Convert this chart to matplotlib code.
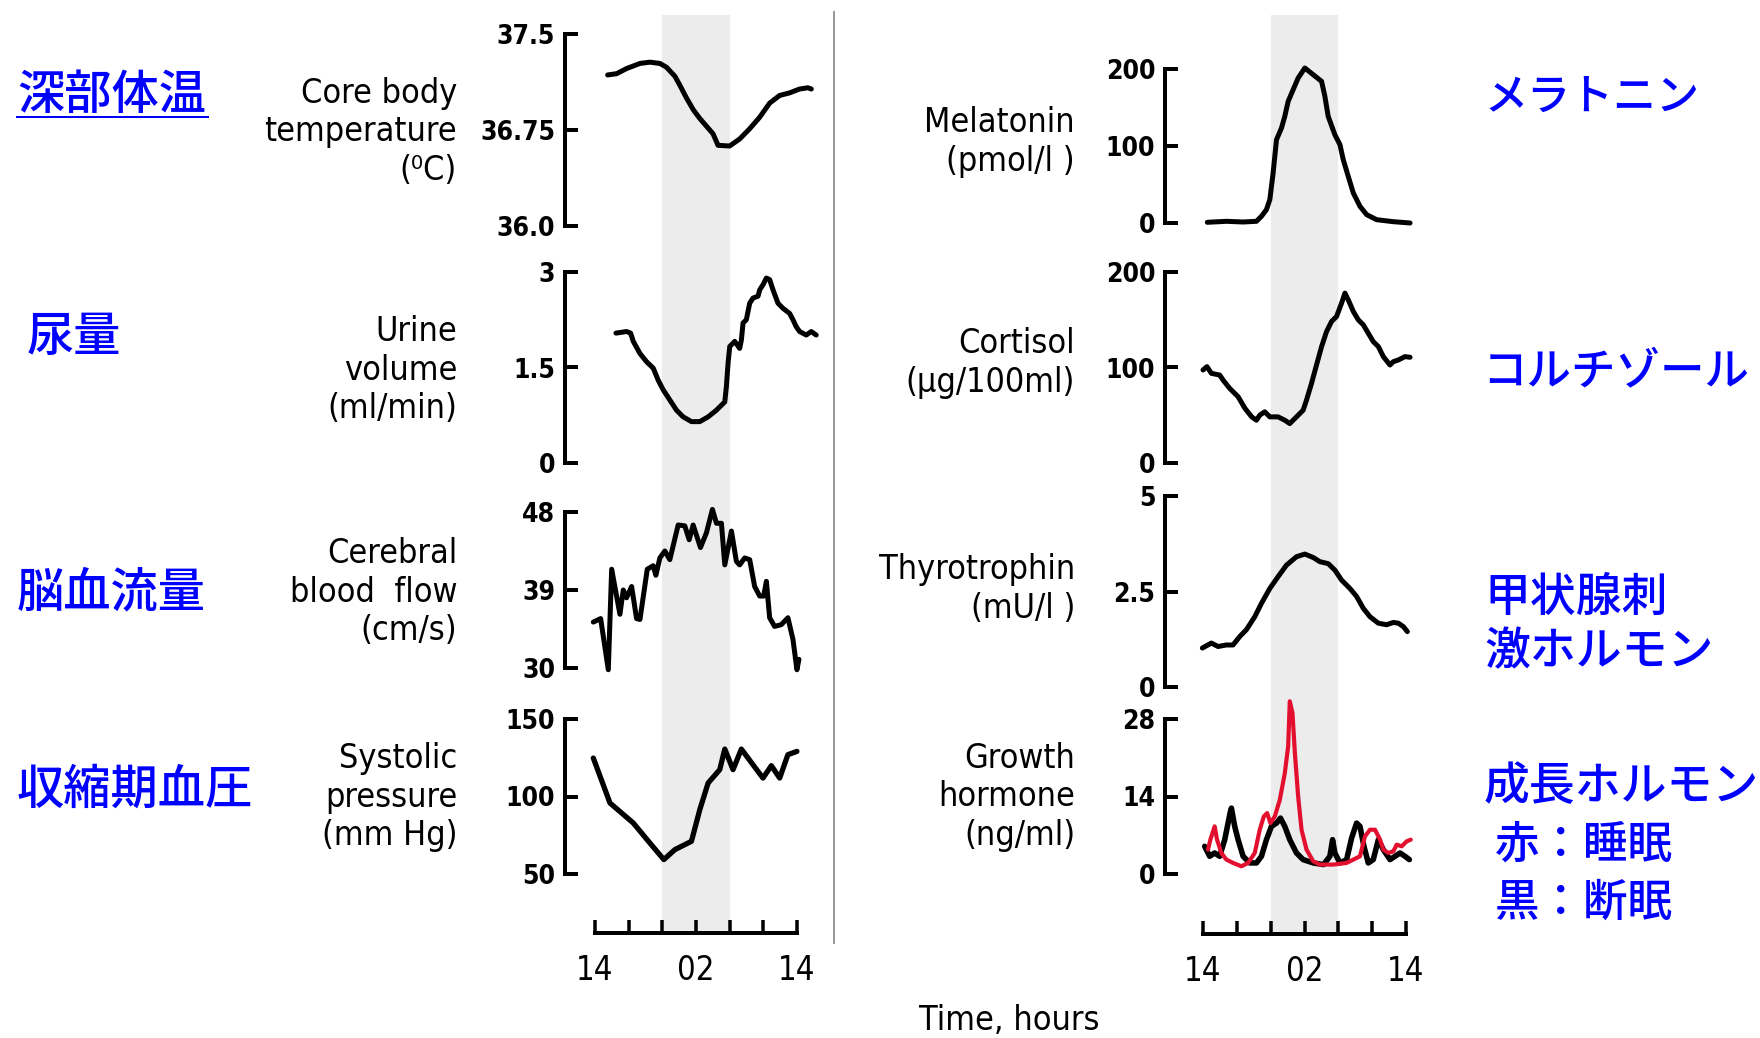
import matplotlib
matplotlib.use("Agg")
import matplotlib.pyplot as plt
from matplotlib import font_manager
from matplotlib.lines import Line2D

# time axis: hours after 14:00
time_ticks = [0, 4, 8, 12, 16, 20, 24]
time_labels = ["14", "", "", "02", "", "", "14"]
sleep_span = (8, 16)

temp_h = [1.5, 2.57, 3.75, 5.34, 6.52, 7.71, 8.5, 9.49, 10.08, 10.87, 11.66, 12.45,
          13.24, 14.03, 14.62, 16.0, 17.19, 18.38, 19.57, 20.75, 21.94, 23.12,
          24.3, 25.3, 25.7]
temp_v = [37.18, 37.19, 37.23, 37.27, 37.28, 37.27, 37.24, 37.17, 37.10, 37.0,
          36.91, 36.84, 36.78, 36.72, 36.63, 36.625, 36.68, 36.76, 36.85, 36.96,
          37.02, 37.04, 37.07, 37.08, 37.07]

urine_h = [2.49, 3.75, 4.23, 4.55, 5.34, 6.13, 6.92, 7.51, 8.1, 8.89, 9.68, 10.47,
           11.46, 12.45, 13.44, 14.43, 15.42, 15.61, 15.81, 16.01, 16.6, 17.19,
           17.39, 17.59, 17.98, 18.38, 18.77, 19.37, 19.57, 19.96, 20.36, 20.75,
           21.15, 21.74, 22.33, 23.12, 23.52, 23.91, 24.31, 25.1, 25.69, 26.28]
urine_v = [2.04, 2.065, 2.04, 1.91, 1.72, 1.59, 1.49, 1.30, 1.15, 0.99, 0.83, 0.725,
           0.65, 0.65, 0.725, 0.83, 0.96, 1.20, 1.57, 1.83, 1.91, 1.80, 1.93, 2.20,
           2.25, 2.51, 2.59, 2.62, 2.72, 2.80, 2.905, 2.88, 2.72, 2.51, 2.43, 2.35,
           2.25, 2.14, 2.065, 2.01, 2.065, 2.01]

cbf_h = [-0.2, 0.67, 1.58, 1.98, 2.96, 3.36, 3.75, 4.35, 4.94, 5.34, 6.21, 6.92,
         7.23, 7.71, 8.3, 8.89, 9.88, 10.67, 11.19, 11.66, 12.53, 13.24, 13.95,
         14.43, 15.02, 15.42, 16.21, 16.8, 17.19, 17.79, 18.38, 18.97, 19.57,
         20.04, 20.36, 20.75, 21.34, 22.13, 22.92, 23.52, 23.99, 24.23]
cbf_v = [35.3, 35.7, 29.8, 41.4, 36.2, 39.0, 38.1, 39.4, 35.7, 35.6, 41.4, 41.8,
         40.7, 42.7, 43.5, 42.5, 46.5, 46.4, 44.8, 46.5, 43.9, 45.6, 48.3, 46.7,
         46.7, 41.9, 45.8, 42.3, 41.9, 42.7, 42.5, 39.4, 38.3, 38.3, 40.0, 35.8,
         34.8, 35.0, 35.8, 33.3, 29.8, 31.0]

bp_h = [-0.2, 1.78, 4.55, 6.52, 8.18, 9.49, 11.46, 12.45, 13.44, 14.82, 15.42,
        16.4, 17.39, 18.77, 19.96, 20.95, 21.94, 22.92, 23.99]
bp_v = [124.8, 95.8, 82.9, 70.0, 59.3, 65.7, 71.1, 91.5, 108.7, 117.3, 130.6,
        117.3, 130.6, 120.5, 111.9, 119.9, 111.9, 127.0, 129.1]

mel_h = [0.51, 2.76, 4.74, 6.32, 6.91, 7.5, 7.9, 8.29, 8.69, 9.28, 9.67, 10.07,
         10.66, 11.25, 12.04, 13.03, 14.02, 14.41, 14.8, 15.59, 16.19, 16.58,
         17.17, 17.77, 18.56, 19.35, 20.53, 22.5, 24.48]
mel_v = [0.9, 2.2, 1.3, 2.2, 8.7, 17.3, 30.3, 64.9, 108.2, 123.4, 138.5, 158.0,
         173.2, 188.3, 201.3, 192.6, 184.0, 164.5, 138.5, 114.7, 101.7, 82.3,
         60.6, 39.0, 21.6, 10.8, 4.3, 1.7, 0.0]

cort_h = [0, 0.47, 0.99, 1.97, 2.37, 3.16, 4.15, 4.97, 5.76, 6.32, 6.71, 7.3, 7.9,
          8.88, 9.67, 10.26, 11.05, 11.84, 12.24, 12.83, 13.42, 14.02, 14.61,
          15.2, 15.79, 16.38, 16.78, 17.17, 17.77, 18.36, 18.95, 19.54, 20.13,
          20.73, 21.32, 22.11, 22.5, 23.1, 23.88, 24.48]
cort_v = [97.4, 100.9, 93.9, 92.1, 86.9, 78.1, 69.4, 57.1, 48.3, 44.8, 50.1, 53.6,
          48.3, 48.3, 44.8, 41.3, 48.3, 55.3, 65.9, 83.4, 102.6, 121.9, 137.7,
          148.2, 153.4, 167.4, 177.9, 170.9, 158.7, 149.9, 144.7, 135.9, 127.1,
          121.9, 111.4, 102.6, 106.1, 107.9, 111.4, 110.7]

tsh_h = [-0.08, 0.99, 1.78, 2.76, 3.55, 4.34, 5.13, 6.12, 6.91, 7.9, 8.88, 9.87,
         11.05, 12.04, 13.03, 13.82, 14.8, 15.59, 16.38, 17.37, 18.16, 18.95,
         19.74, 20.73, 21.71, 22.5, 23.1, 23.69, 24.16]
tsh_v = [1.02, 1.15, 1.06, 1.10, 1.10, 1.32, 1.50, 1.84, 2.19, 2.58, 2.89, 3.19,
         3.41, 3.48, 3.39, 3.28, 3.23, 3.06, 2.80, 2.58, 2.37, 2.06, 1.84, 1.67,
         1.63, 1.69, 1.67, 1.58, 1.45]

gh_sleep_h = [0.59, 0.87, 1.38, 1.66, 2.17, 2.76, 3.55, 4.54, 5.33, 6.12, 6.71,
              7.19, 7.58, 7.97, 8.49, 9.08, 9.67, 10.07, 10.26, 10.58, 10.86,
              11.25, 11.65, 12.24, 13.03, 13.82, 15.4, 16.98, 18.56, 19.15, 19.74,
              20.34, 20.93, 21.32, 21.91, 22.5, 22.9, 23.49, 24.08, 24.56]
gh_sleep_v = [4.4, 6.2, 8.6, 6.2, 3.8, 2.6, 2.0, 1.4, 2.0, 3.8, 8.0, 10.4, 11.0,
              9.2, 10.4, 13.4, 18.2, 23.1, 31.2, 29.1, 21.9, 14.0, 8.0, 4.4, 2.3,
              1.7, 1.7, 2.0, 3.2, 6.8, 8.0, 8.0, 6.2, 4.4, 3.8, 4.1, 5.3, 5.0,
              5.9, 6.2]
gh_wake_h = [0.2, 0.79, 1.38, 1.97, 2.57, 3.2, 3.36, 3.75, 4.15, 4.74, 5.53, 6.32,
             6.91, 7.5, 8.09, 8.69, 9.16, 9.67, 10.26, 11.05, 11.84, 13.03, 14.25,
             15.0, 15.32, 15.59, 16.19, 16.98, 17.57, 18.16, 18.56, 19.03, 19.54,
             20.13, 20.73, 21.32, 22.11, 22.7, 23.29, 23.88, 24.4]
gh_wake_v = [5.0, 3.2, 3.8, 3.2, 6.2, 11.0, 11.9, 8.6, 6.2, 3.2, 2.0, 2.0, 3.2,
             6.2, 8.6, 9.2, 10.1, 8.6, 6.2, 3.8, 2.6, 2.0, 1.7, 3.2, 6.2, 3.8, 2.0,
             2.6, 6.5, 9.2, 8.6, 5.0, 2.0, 2.6, 6.2, 4.4, 2.6, 3.2, 3.8, 3.2, 2.6]

W, H = 1760, 1038
PT = 72 / 100
BLUE = "#0000ff"
JP = ["Noto Sans CJK JP", "DejaVu Sans"]

# the reference lettering is narrow; use the condensed DejaVu cut if it is there
stretch = "normal"
for f in font_manager.fontManager.ttflist:
    if f.name == "DejaVu Sans" and f.stretch not in ("normal", 500) \
            and f.weight in ("normal", 400):
        stretch = f.stretch
        break
narrow = stretch != "normal"
TXT = dict(fontstretch=stretch, fontsize=24.5 if narrow else 21)
TICK = 19 if narrow else 16.5

fig = plt.figure(figsize=(W / 100, H / 100), dpi=100, facecolor="white")


def rect(x0, y0, x1, y1):
    return [x0 / W, 1 - y1 / H, (x1 - x0) / W, (y1 - y0) / H]


def time_axis(x0, x1, ytop, ybot):
    ax = fig.add_axes(rect(x0, ytop, x1, ybot), zorder=0)
    ax.set_xlim(0, 24)
    ax.set_ylim(0, 1)
    ax.axvspan(*sleep_span, color="#ececec", lw=0)
    for s in ["top", "right", "left"]:
        ax.spines[s].set_visible(False)
    ax.spines["bottom"].set_linewidth(4 * PT)
    ax.set_yticks([])
    ax.set_xticks(time_ticks, time_labels)
    ax.tick_params(axis="x", direction="in", length=13 * PT, width=3.5 * PT,
                   pad=15, labelsize=23.5)
    for lab in ax.get_xticklabels():
        lab.set_fontstretch(stretch)
    return ax


def panel(x0, x1, ytop, ybot, ticks, labels, outward):
    ax = fig.add_axes(rect(x0, ytop, x1, ybot), zorder=2)
    ax.patch.set_alpha(0)
    ax.set_xlim(0, 24)
    ax.set_ylim(ticks[0], ticks[-1])
    for s in ["top", "right", "bottom"]:
        ax.spines[s].set_visible(False)
    ax.spines["left"].set_position(("outward", outward * PT))
    ax.spines["left"].set_linewidth(4 * PT)
    ax.set_xticks([])
    ax.set_yticks(ticks, labels)
    ax.tick_params(axis="y", direction="in", length=13 * PT, width=4 * PT,
                   pad=7, labelsize=TICK)
    for lab in ax.get_yticklabels():
        lab.set_fontweight("bold")
        lab.set_fontstretch(stretch)
    return ax


def curve(ax, h, v, color="black", lw=3.6):
    ax.plot(h, v, color=color, lw=lw, clip_on=False, solid_joinstyle="round",
            solid_capstyle="round")


# left column
time_axis(595, 797, 15, 933)
ax = panel(595, 797, 34, 226, [36.0, 36.75, 37.5], ["36.0", "36.75", "37.5"], 30)
curve(ax, temp_h, temp_v)
ax = panel(595, 797, 272, 463, [0, 1.5, 3], ["0", "1.5", "3"], 30)
curve(ax, urine_h, urine_v)
ax = panel(595, 797, 512, 668, [30, 39, 48], ["30", "39", "48"], 30)
curve(ax, cbf_h, cbf_v)
ax = panel(595, 797, 719, 874, [50, 100, 150], ["50", "100", "150"], 30)
curve(ax, bp_h, bp_v, lw=3.8)

# right column
time_axis(1203, 1406, 15, 934)
ax = panel(1203, 1406, 69, 223, [0, 100, 200], ["0", "100", "200"], 38)
curve(ax, mel_h, mel_v)
ax = panel(1203, 1406, 272, 463, [0, 100, 200], ["0", "100", "200"], 38)
curve(ax, cort_h, cort_v)
ax = panel(1203, 1406, 496, 687, [0, 2.5, 5], ["0", "2.5", "5"], 38)
curve(ax, tsh_h, tsh_v)
ax = panel(1203, 1406, 719, 874, [0, 14, 28], ["0", "14", "28"], 38)
curve(ax, gh_wake_h, gh_wake_v, lw=4.0)
curve(ax, gh_sleep_h, gh_sleep_v, color="#e2102e", lw=3.0)

# separator between the two columns
fig.add_artist(Line2D([834 / W, 834 / W], [1 - 12 / H, 1 - 943 / H],
                      color="#9a9a9a", lw=2 * PT))

# english labels
eng = [
    (457, 132, "Core body\ntemperature\n(\u2070C)"),
    (457, 370, "Urine\nvolume\n(ml/min)"),
    (457, 592, "Cerebral\nblood  flow\n(cm/s)"),
    (457, 797, "Systolic\npressure\n(mm Hg)"),
    (1075, 142, "Melatonin\n(pmol/l )"),
    (1075, 363, "Cortisol\n(\u03bcg/100ml)"),
    (1075, 589, "Thyrotrophin\n(mU/l )"),
    (1075, 797, "Growth\nhormone\n(ng/ml)"),
]
for x, y, s in eng:
    fig.text(x / W, 1 - y / H, s, ha="right", va="center", ma="right",
             linespacing=1.2, **TXT)

fig.text(1009 / W, 1 - 1021 / H, "Time, hours", ha="center", va="center", **TXT)

# japanese labels
jp = [
    (17, 95, "深部体温", 34),
    (27, 337, "尿量", 34),
    (17, 593, "脳血流量", 34),
    (17, 790, "収縮期血圧", 34),
    (1484, 97, "メラトニン", 31),
    (1482, 372, "コルチゾール", 32),
    (1484, 597, "甲状腺刺", 33),
    (1484, 652, "激ホルモン", 33),
    (1484, 787, "成長ホルモン", 33),
    (1495, 845, "赤：睡眠", 32),
    (1495, 903, "黒：断眠", 32),
]
for x, y, s, fs in jp:
    fig.text(x / W, 1 - y / H, s, ha="left", va="center", fontsize=fs,
             color=BLUE, family=JP, fontweight="medium")

# underline under the first label (hyperlink style)
fig.add_artist(Line2D([17 / W, 208 / W], [1 - 117 / H, 1 - 117 / H],
                      color=BLUE, lw=2 * PT))

fig.savefig("out.png", dpi=100, facecolor="white")
